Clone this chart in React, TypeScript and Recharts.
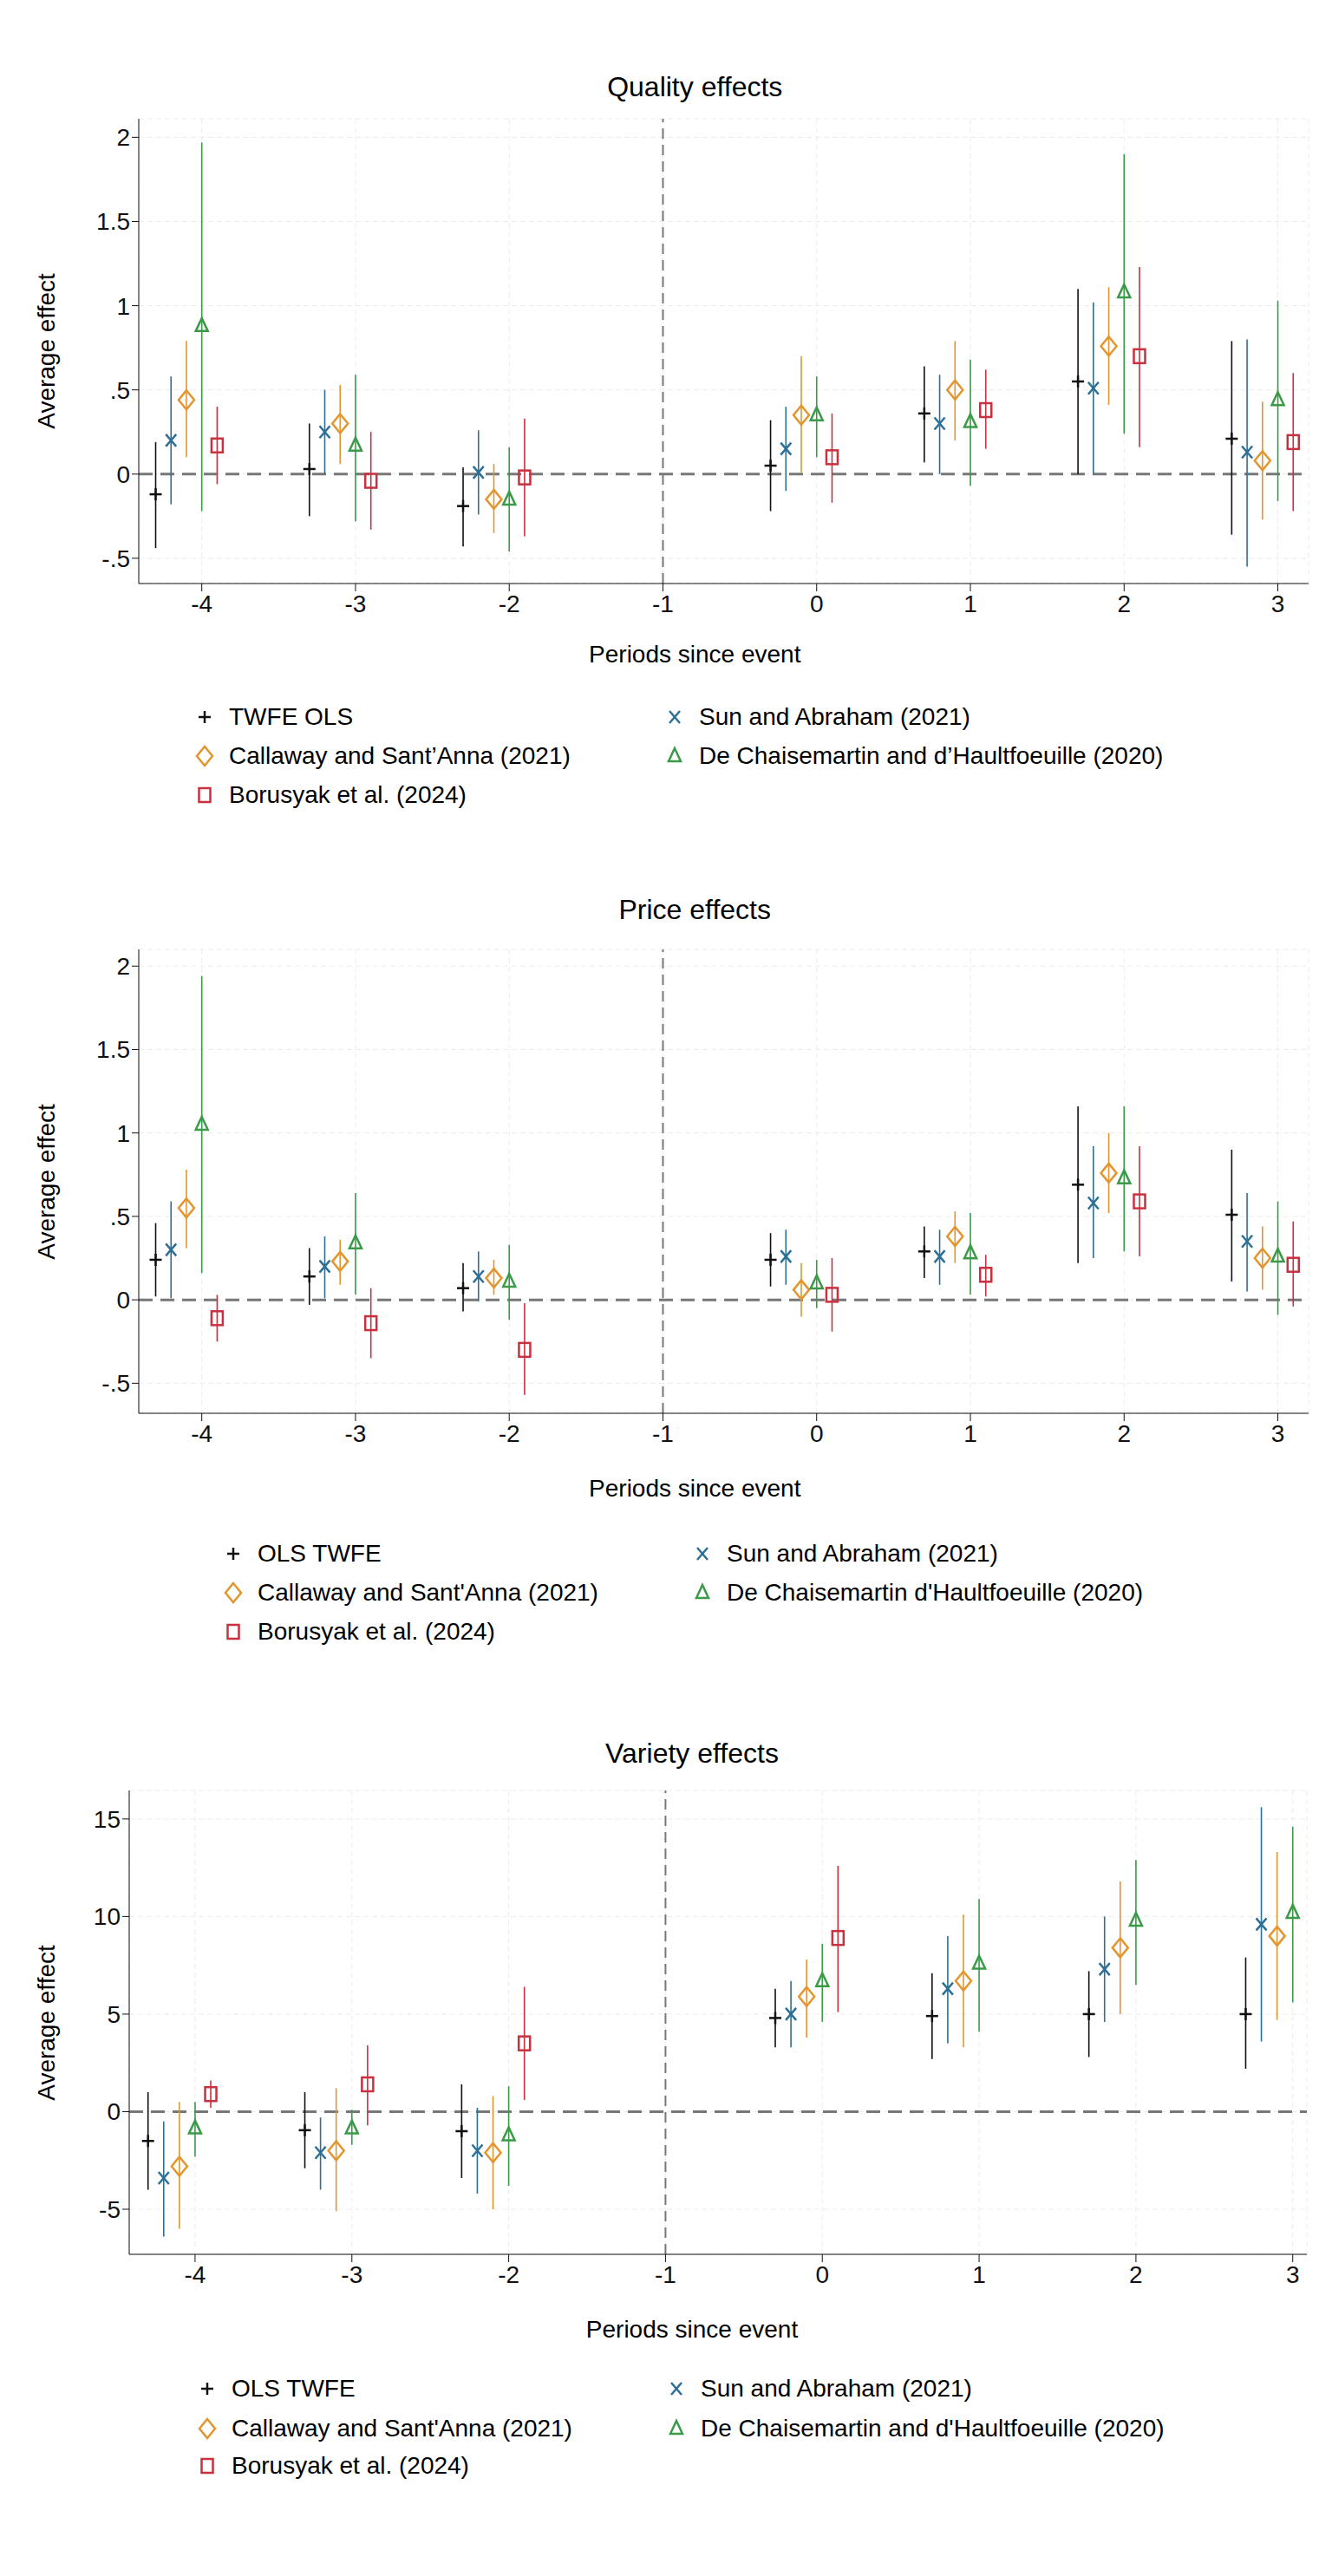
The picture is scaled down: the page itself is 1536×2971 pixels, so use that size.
import React from 'react';
import { ComposedChart, Scatter, XAxis, YAxis, CartesianGrid, ReferenceLine, ErrorBar } from 'recharts';

const periods = [-4, -3, -2, 0, 1, 2, 3];
const xTicks = [-4, -3, -2, -1, 0, 1, 2, 3];

// [estimate, lower, upper]
const qTwfe = [[-0.12, -0.44, 0.19], [0.03, -0.25, 0.30], [-0.19, -0.43, 0.04], [0.05, -0.22, 0.32], [0.36, 0.07, 0.64], [0.55, 0.0, 1.10], [0.21, -0.36, 0.79]];
const qSa = [[0.20, -0.18, 0.58], [0.25, 0.0, 0.50], [0.01, -0.24, 0.26], [0.15, -0.10, 0.40], [0.30, 0.0, 0.59], [0.51, 0.0, 1.02], [0.13, -0.55, 0.80]];
const qCs = [[0.44, 0.10, 0.79], [0.30, 0.06, 0.53], [-0.15, -0.35, 0.06], [0.35, 0.01, 0.70], [0.50, 0.20, 0.79], [0.76, 0.41, 1.11], [0.08, -0.27, 0.43]];
const qDcdh = [[0.88, -0.22, 1.97], [0.17, -0.28, 0.59], [-0.15, -0.46, 0.16], [0.35, 0.10, 0.58], [0.31, -0.07, 0.68], [1.08, 0.24, 1.90], [0.44, -0.16, 1.03]];
const qBjs = [[0.17, -0.06, 0.40], [-0.04, -0.33, 0.25], [-0.02, -0.37, 0.33], [0.10, -0.17, 0.36], [0.38, 0.15, 0.62], [0.70, 0.16, 1.23], [0.19, -0.22, 0.60]];

const pTwfe = [[0.24, 0.02, 0.46], [0.14, -0.03, 0.31], [0.07, -0.07, 0.22], [0.24, 0.08, 0.40], [0.29, 0.13, 0.44], [0.69, 0.22, 1.16], [0.51, 0.11, 0.90]];
const pSa = [[0.30, 0.01, 0.59], [0.20, 0.01, 0.38], [0.14, -0.01, 0.29], [0.26, 0.09, 0.42], [0.26, 0.09, 0.42], [0.58, 0.25, 0.92], [0.35, 0.05, 0.64]];
const pCs = [[0.55, 0.31, 0.78], [0.23, 0.09, 0.36], [0.13, 0.03, 0.24], [0.06, -0.10, 0.22], [0.38, 0.22, 0.53], [0.76, 0.52, 1.00], [0.25, 0.06, 0.44]];
const pDcdh = [[1.05, 0.16, 1.94], [0.34, 0.03, 0.64], [0.11, -0.12, 0.33], [0.10, -0.05, 0.24], [0.28, 0.03, 0.52], [0.73, 0.29, 1.16], [0.26, -0.09, 0.59]];
const pBjs = [[-0.11, -0.25, 0.03], [-0.14, -0.35, 0.07], [-0.30, -0.57, -0.02], [0.03, -0.19, 0.25], [0.15, 0.02, 0.27], [0.59, 0.26, 0.92], [0.21, -0.04, 0.47]];

const vTwfe = [[-1.5, -4.0, 1.0], [-0.95, -2.9, 1.0], [-1.0, -3.4, 1.4], [4.8, 3.3, 6.3], [4.9, 2.7, 7.1], [5.0, 2.8, 7.2], [5.0, 2.2, 7.9]];
const vSa = [[-3.4, -6.4, -0.5], [-2.1, -4.0, -0.3], [-2.0, -4.2, 0.2], [5.0, 3.3, 6.7], [6.3, 3.5, 9.0], [7.3, 4.6, 10.0], [9.6, 3.6, 15.6]];
const vCs = [[-2.8, -6.0, 0.5], [-2.0, -5.1, 1.2], [-2.1, -5.0, 0.8], [5.9, 3.8, 7.8], [6.7, 3.3, 10.1], [8.4, 5.0, 11.8], [9.0, 4.7, 13.3]];
const vDcdh = [[-0.85, -2.3, 0.5], [-0.85, -1.7, 0.1], [-1.2, -3.8, 1.3], [6.7, 4.6, 8.6], [7.6, 4.1, 10.9], [9.8, 6.5, 12.9], [10.2, 5.6, 14.6]];
const vBjs = [[0.9, 0.2, 1.6], [1.4, -0.7, 3.4], [3.5, 0.6, 6.4], [8.9, 5.1, 12.6]];

const COLORS = { twfe: '#111111', sa: '#2e6f95', cs: '#e3952e', dcdh: '#3a9a48', bjs: '#c9313f' };
const OFFSETS = { twfe: -0.3, sa: -0.2, cs: -0.1, dcdh: 0, bjs: 0.1 };
const FONT = 'Arial, "Liberation Sans", sans-serif';

function build(vals: number[][], off: number) {
  return vals.map((v, i) => ({ x: periods[i] + off, y: v[0], err: [v[0] - v[1], v[2] - v[0]] }));
}

function Marker({ kind, cx, cy }: { kind: string; cx: number; cy: number }) {
  const c = (COLORS as any)[kind];
  if (kind === 'twfe') return (<g stroke={c} strokeWidth={2.5}><line x1={cx - 7} x2={cx + 7} y1={cy} y2={cy} /><line x1={cx} x2={cx} y1={cy - 7} y2={cy + 7} /></g>);
  if (kind === 'sa') return (<g stroke={c} strokeWidth={2.5}><line x1={cx - 6} x2={cx + 6} y1={cy - 7} y2={cy + 7} /><line x1={cx - 6} x2={cx + 6} y1={cy + 7} y2={cy - 7} /></g>);
  if (kind === 'cs') return <polygon points={`${cx},${cy - 11} ${cx + 9},${cy} ${cx},${cy + 11} ${cx - 9},${cy}`} fill="none" stroke={c} strokeWidth={2.5} />;
  if (kind === 'dcdh') return <polygon points={`${cx},${cy - 9} ${cx + 7},${cy + 6} ${cx - 7},${cy + 6}`} fill="none" stroke={c} strokeWidth={2.5} />;
  return <rect x={cx - 6.5} y={cy - 8} width={13} height={16} fill="none" stroke={c} strokeWidth={2.5} />;
}

const fmt = (v: number) => (v === 0 ? '0' : String(v).replace('0.', '.'));

type PanelProps = {
  title: string; top: number; titleY: number; plotTop: number; plotBottom: number; left: number; right: number;
  xDomain: number[]; yDomain: number[]; yTicks: number[]; series: { kind: string; vals: number[][] }[];
  xlabelY: number; legendY: number[]; legendX: number[]; labels: string[];
};

function Panel(p: PanelProps) {
  const mTop = 10;
  const xh = 60;
  const h = p.plotBottom - p.plotTop + mTop + xh;
  const yw = 60;
  const mid = (p.left + p.right) / 2;
  const legendItems = [
    { kind: 'twfe', col: 0, row: 0 }, { kind: 'sa', col: 1, row: 0 },
    { kind: 'cs', col: 0, row: 1 }, { kind: 'dcdh', col: 1, row: 1 }, { kind: 'bjs', col: 0, row: 2 },
  ];
  return (
    <>
      <div style={{ position: 'absolute', left: 0, width: 1536, top: p.titleY - 20, textAlign: 'center', paddingLeft: mid - 768, boxSizing: 'border-box', fontFamily: FONT, fontSize: 32, lineHeight: '40px' }}>{p.title}</div>
      <div style={{ position: 'absolute', left: 34, top: (p.plotTop + p.plotBottom) / 2 - 20, width: 40, height: 40 }}>
        <div style={{ position: 'absolute', left: 0, top: 0, width: 400, marginLeft: -180, textAlign: 'center', transform: 'rotate(-90deg)', fontFamily: FONT, fontSize: 28, lineHeight: '40px' }}>Average effect</div>
      </div>
      <div style={{ position: 'absolute', left: 0, top: p.plotTop - mTop }}>
        <ComposedChart width={1536} height={h} margin={{ top: mTop, left: p.left - yw, right: 1536 - p.right, bottom: 0 }}>
          <CartesianGrid stroke="#ececec" strokeDasharray="6 4" />
          <XAxis type="number" dataKey="x" domain={p.xDomain} ticks={xTicks} allowDataOverflow height={xh} tick={{ fill: '#111', fontSize: 28, fontFamily: FONT }} tickSize={9} stroke="#111" tickMargin={4} interval={0} />
          <YAxis type="number" dataKey="y" domain={p.yDomain} ticks={p.yTicks} allowDataOverflow width={yw} tick={{ fill: '#111', fontSize: 28, fontFamily: FONT }} tickSize={8} stroke="#111" tickFormatter={fmt} interval={0} />
          <ReferenceLine x={-1} stroke="#777" strokeWidth={2} strokeDasharray="12 7" />
          <ReferenceLine y={0} stroke="#777" strokeWidth={3} strokeDasharray="16 9" />
          {p.series.map((s) => (
            <Scatter key={s.kind} data={build(s.vals, (OFFSETS as any)[s.kind])} isAnimationActive={false}
              shape={(props: any) => <Marker kind={s.kind} cx={props.cx} cy={props.cy} />}>
              <ErrorBar dataKey="err" direction="y" width={0} stroke={(COLORS as any)[s.kind]} strokeWidth={1.6} />
            </Scatter>
          ))}
        </ComposedChart>
      </div>
      <div style={{ position: 'absolute', left: 0, width: 1536, top: p.xlabelY - 20, textAlign: 'center', paddingLeft: mid - 768, boxSizing: 'border-box', fontFamily: FONT, fontSize: 28, lineHeight: '40px' }}>Periods since event</div>
      {legendItems.map((it) => {
        const idx = ['twfe', 'sa', 'cs', 'dcdh', 'bjs'].indexOf(it.kind);
        return (
          <div key={it.kind} style={{ position: 'absolute', left: p.legendX[it.col] - 14, top: p.legendY[it.row] - 20, height: 40, display: 'flex', alignItems: 'center', fontFamily: FONT, fontSize: 28, whiteSpace: 'nowrap' }}>
            <svg width={28} height={28} style={{ marginRight: 14 }}><Marker kind={it.kind} cx={14} cy={14} /></svg>
            <span>{p.labels[idx]}</span>
          </div>
        );
      })}
    </>
  );
}

export default function App() {
  return (
    <div style={{ position: 'absolute', left: 0, top: 0, width: 1536, height: 2971, background: '#fff' }}>
      <Panel title="Quality effects" top={0} titleY={100} plotTop={137} plotBottom={673} left={160} right={1509}
        xDomain={[-4.41, 3.2]} yDomain={[-0.65, 2.11]} yTicks={[-0.5, 0, 0.5, 1, 1.5, 2]}
        series={[{ kind: 'twfe', vals: qTwfe }, { kind: 'sa', vals: qSa }, { kind: 'cs', vals: qCs }, { kind: 'dcdh', vals: qDcdh }, { kind: 'bjs', vals: qBjs }]}
        xlabelY={755} legendY={[827, 872, 917]} legendX={[236, 778]}
        labels={['TWFE OLS', 'Sun and Abraham (2021)', 'Callaway and Sant\u2019Anna (2021)', 'De Chaisemartin and d\u2019Haultfoeuille (2020)', 'Borusyak et al. (2024)']} />
      <Panel title="Price effects" top={0} titleY={1049} plotTop={1095} plotBottom={1630} left={160} right={1509}
        xDomain={[-4.41, 3.2]} yDomain={[-0.68, 2.1]} yTicks={[-0.5, 0, 0.5, 1, 1.5, 2]}
        series={[{ kind: 'twfe', vals: pTwfe }, { kind: 'sa', vals: pSa }, { kind: 'cs', vals: pCs }, { kind: 'dcdh', vals: pDcdh }, { kind: 'bjs', vals: pBjs }]}
        xlabelY={1717} legendY={[1792, 1837, 1882]} legendX={[269, 810]}
        labels={['OLS TWFE', 'Sun and Abraham (2021)', "Callaway and Sant'Anna (2021)", "De Chaisemartin d'Haultfoeuille (2020)", 'Borusyak et al. (2024)']} />
      <Panel title="Variety effects" top={0} titleY={2022} plotTop={2065} plotBottom={2600} left={149} right={1507}
        xDomain={[-4.42, 3.09]} yDomain={[-7.31, 16.46]} yTicks={[-5, 0, 5, 10, 15]}
        series={[{ kind: 'twfe', vals: vTwfe }, { kind: 'sa', vals: vSa }, { kind: 'cs', vals: vCs }, { kind: 'dcdh', vals: vDcdh }, { kind: 'bjs', vals: vBjs }]}
        xlabelY={2687} legendY={[2755, 2801, 2844]} legendX={[239, 780]}
        labels={[' OLS TWFE', 'Sun and Abraham (2021)', "Callaway and Sant'Anna (2021)", "De Chaisemartin and d'Haultfoeuille (2020)", 'Borusyak et al. (2024)']} />
    </div>
  );
}
